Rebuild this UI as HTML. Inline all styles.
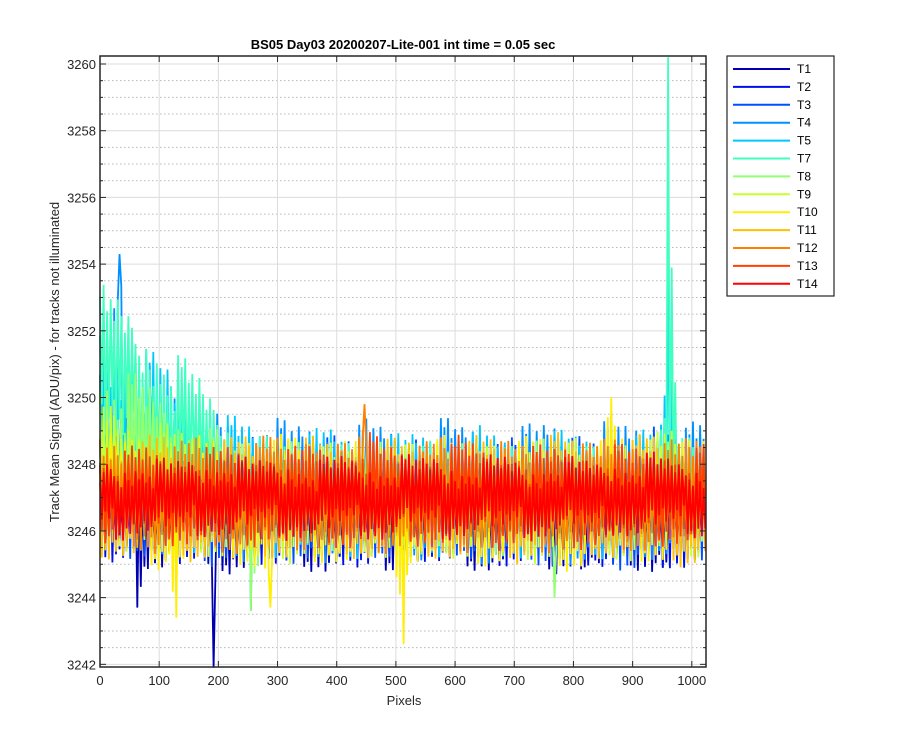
<!DOCTYPE html>
<html><head><meta charset="utf-8"><style>
body{margin:0;background:#fff;}
svg{display:block;font-family:"Liberation Sans",Arial,sans-serif;}
</style></head><body>
<svg id="chart" width="900" height="750" xmlns="http://www.w3.org/2000/svg">
<rect width="900" height="750" fill="#fff"/>
<g id="grid"></g>
<g id="plot"></g>
<g id="axes"></g>
<text x="403" y="49" text-anchor="middle" font-size="13" font-weight="bold" fill="#000">BS05 Day03 20200207-Lite-001 int time = 0.05 sec</text>
<text x="404" y="705" text-anchor="middle" font-size="13" fill="#262626">Pixels</text>
<text transform="translate(59,362) rotate(-90)" text-anchor="middle" font-size="13" fill="#262626">Track Mean Signal (ADU/pix) - for tracks not illuminated</text>
<g id="legend"></g>
</svg>
<script>
const seriesNames=["T1","T2","T3","T4","T5","T7","T8","T9","T10","T11","T12","T13","T14"];
const seriesColors=["#0000b0","#0010e8","#0050ff","#0090ff","#00c8ff","#40ffc0","#90ff70","#c8ff30","#ffee00","#ffc000","#ff8000","#ff4000","#ff0000"];
const xTicks=[0,100,200,300,400,500,600,700,800,900,1000];
const yTicks=[3242,3244,3246,3248,3250,3252,3254,3256,3258,3260];
const baseLevel=3247;
// per-32-pixel envelope (max / min offset from baseLevel) of each track
const hiT1=[1.2,1.0,1.3,0.9,1.4,1.1,1.0,1.2,1.3,0.9,1.1,1.4,1.0,1.2,1.1,1.3,0.9,1.2,1.0,1.4,1.1,1.0,1.3,1.2,0.9,1.1,1.3,1.0,1.2,1.4,1.1,1.0,1.2];
const loT1=[-2.1,-2.3,-3.3,-2.2,-2.4,-2.3,-5.1,-2.4,-2.2,-2.5,-2.1,-2.3,-2.4,-2.2,-2.3,-2.4,-2.1,-2.3,-2.5,-2.2,-2.3,-2.4,-2.3,-2.1,-2.4,-2.2,-3.0,-2.3,-2.2,-2.4,-2.5,-2.3,-2.2];
const hiT2=[1.5,1.6,1.4,1.7,1.3,1.5,1.6,1.4,1.5,1.3,1.6,1.7,1.4,1.5,1.3,1.6,1.4,1.5,1.7,1.3,1.5,1.6,1.4,1.5,1.6,1.4,1.3,1.5,1.6,1.4,1.5,1.3,1.4];
const loT2=[-2.0,-2.2,-2.1,-2.3,-2.1,-2.0,-2.2,-2.4,-2.1,-2.1,-2.3,-2.0,-2.2,-2.1,-2.4,-2.1,-2.2,-2.0,-2.1,-2.3,-2.1,-2.2,-2.1,-2.0,-2.3,-2.2,-2.1,-2.4,-2.1,-2.5,-2.2,-2.3,-2.1];
const hiT3=[2.5,2.3,2.1,2.0,1.9,1.8,2.0,1.7,1.9,2.1,1.8,1.7,2.0,1.9,1.8,2.1,1.7,1.9,1.8,2.0,1.9,1.7,2.1,1.8,1.9,2.0,1.8,1.9,2.1,2.4,2.2,1.9,1.8];
const loT3=[-1.8,-2.0,-1.9,-2.1,-1.8,-2.0,-2.2,-1.9,-2.0,-1.8,-2.1,-2.0,-1.9,-2.2,-1.8,-2.0,-1.9,-2.1,-2.0,-1.8,-2.2,-2.0,-1.9,-2.1,-2.3,-2.0,-1.9,-2.2,-2.4,-2.1,-2.0,-1.9,-2.0];
const hiT4=[5.5,7.3,4.6,5.2,4.3,3.0,2.8,2.5,2.6,2.8,2.3,2.4,2.6,2.2,2.5,2.3,2.4,2.2,2.6,2.3,2.5,2.2,2.4,2.3,2.5,2.2,2.4,2.6,2.3,2.8,2.5,2.3,2.6];
const loT4=[-1.8,-2.0,-1.7,-1.9,-1.8,-2.1,-1.9,-2.0,-3.4,-1.8,-2.0,-1.9,-2.1,-1.8,-2.2,-1.9,-2.0,-2.1,-1.8,-2.0,-2.3,-1.9,-2.1,-2.0,-1.8,-2.2,-2.0,-2.4,-2.1,-2.0,-1.9,-2.1,-2.0];
const hiT5=[5.8,5.2,5.0,4.4,3.9,3.3,3.0,2.6,2.3,2.2,2.4,2.1,2.3,2.0,2.2,2.1,2.0,2.2,2.1,1.9,2.3,2.0,2.1,1.9,2.2,2.0,2.1,2.3,2.0,2.2,7.0,2.0,1.8];
const loT5=[-0.5,-0.8,-1.0,-1.3,-1.6,-1.8,-1.7,-1.9,-1.8,-2.0,-1.7,-1.9,-1.8,-2.0,-1.9,-1.7,-2.0,-1.8,-1.9,-1.7,-2.0,-1.8,-1.9,-2.0,-1.8,-1.7,-1.9,-2.0,-1.8,-1.9,-1.5,-1.7,-1.8];
const hiT7=[6.6,6.2,5.8,5.2,4.6,4.0,3.3,2.6,2.1,1.9,2.0,1.8,1.9,1.7,1.8,1.6,1.8,1.7,1.9,1.6,1.8,1.7,1.6,1.8,1.7,1.9,1.6,1.8,1.7,2.0,13.2,2.0,1.7];
const loT7=[0.8,0.5,0.3,0.0,-0.5,-0.9,-1.2,-1.4,-1.5,-1.4,-1.6,-1.5,-1.4,-1.6,-1.5,-1.4,-1.6,-1.5,-1.4,-1.5,-1.6,-1.4,-1.5,-1.6,-1.4,-1.5,-1.6,-1.4,-1.5,-1.3,0.0,-1.2,-1.4];
const hiT8=[4.6,4.2,3.8,3.4,3.0,2.6,2.2,1.9,1.8,1.7,1.9,1.6,1.8,1.7,1.6,1.8,1.7,1.9,1.6,1.7,1.8,1.6,1.7,1.9,1.8,1.6,1.7,1.8,1.6,1.9,2.5,1.8,1.6];
const loT8=[-1.0,-1.2,-1.4,-1.5,-1.6,-1.8,-1.7,-1.9,-3.4,-1.8,-1.7,-1.9,-1.8,-1.7,-1.9,-1.8,-1.6,-1.8,-1.9,-1.7,-1.8,-1.9,-1.7,-1.8,-3.0,-1.8,-1.7,-1.9,-1.8,-1.7,-1.6,-1.8,-1.7];
const hiT9=[3.4,3.1,2.8,2.5,2.2,2.0,1.8,1.9,1.7,1.8,1.6,1.8,1.7,1.9,1.6,1.7,1.8,1.6,1.7,1.9,1.8,1.6,1.7,1.8,1.6,1.9,1.7,1.8,1.6,1.9,2.3,1.8,1.7];
const loT9=[-1.6,-1.7,-1.8,-1.9,-2.0,-1.8,-1.9,-2.0,-1.8,-1.9,-2.1,-1.8,-2.0,-1.9,-1.8,-2.0,-1.9,-2.1,-1.8,-2.0,-1.9,-1.8,-2.0,-2.1,-1.9,-1.8,-2.0,-1.9,-2.1,-1.8,-1.9,-2.0,-1.8];
const hiT10=[2.2,2.0,1.9,2.1,1.8,2.0,1.9,1.8,2.0,1.9,2.1,1.8,1.9,2.0,1.8,2.1,1.9,1.8,2.0,1.9,1.8,2.1,1.9,2.0,1.8,2.2,1.9,3.0,2.0,1.9,2.1,1.8,1.9];
const loT10=[-2.0,-2.2,-2.1,-2.3,-3.6,-2.1,-2.2,-2.0,-2.3,-3.3,-2.1,-2.2,-2.0,-2.3,-2.1,-2.2,-4.4,-2.1,-2.3,-2.0,-2.2,-2.1,-2.3,-2.0,-2.2,-2.4,-2.1,-2.2,-2.3,-2.0,-2.1,-2.2,-2.0];
const hiT11=[1.9,2.0,1.8,2.1,1.9,1.8,2.0,1.9,2.1,1.8,1.9,2.0,1.8,2.1,1.9,2.0,1.8,1.9,2.1,1.8,2.0,1.9,1.8,2.0,2.1,1.9,1.8,2.0,1.9,2.1,1.8,2.0,2.6];
const loT11=[-2.0,-1.9,-2.1,-2.0,-1.8,-2.1,-1.9,-2.0,-2.1,-1.9,-2.0,-1.8,-2.1,-1.9,-2.0,-2.1,-1.8,-2.0,-1.9,-2.1,-2.0,-1.8,-2.1,-1.9,-2.0,-2.2,-1.9,-2.0,-2.1,-1.9,-2.0,-2.3,-2.0];
const hiT12=[1.8,1.7,1.9,1.8,1.7,2.0,1.8,1.9,1.7,2.1,1.8,2.5,1.9,1.7,2.8,1.8,1.9,1.7,2.0,1.8,2.2,1.9,1.7,1.8,2.0,1.9,1.7,2.1,2.3,1.9,1.8,2.0,2.2];
const loT12=[-1.7,-1.8,-1.6,-1.9,-1.7,-1.8,-1.6,-1.9,-1.8,-1.7,-1.9,-1.6,-1.8,-1.7,-1.9,-1.8,-1.6,-1.7,-1.9,-1.8,-1.7,-1.6,-1.8,-1.9,-1.7,-1.8,-1.6,-1.9,-1.7,-1.8,-1.9,-2.1,-1.8];
const hiT13=[1.6,1.5,1.7,1.6,1.5,1.8,1.6,1.7,1.5,1.9,1.6,1.7,1.8,1.6,2.3,1.7,1.6,1.8,1.5,2.0,1.7,1.6,1.8,1.7,1.6,1.9,1.7,1.8,1.6,1.7,1.8,1.6,1.7];
const loT13=[-1.5,-1.6,-1.4,-1.7,-1.5,-1.6,-1.7,-1.5,-1.6,-1.4,-1.7,-1.6,-1.5,-1.7,-1.6,-1.5,-1.4,-1.6,-1.7,-1.5,-1.6,-1.7,-1.5,-1.6,-1.4,-1.7,-1.6,-1.5,-1.6,-1.7,-1.5,-1.6,-1.5];
const hiT14=[1.3,1.2,1.4,1.3,1.2,1.4,1.3,1.5,1.2,1.3,1.4,1.2,1.3,1.4,1.3,1.2,1.4,1.3,1.5,1.2,1.3,1.4,1.3,1.2,1.4,1.3,1.2,1.4,1.3,1.5,1.3,1.2,1.3];
const loT14=[-1.3,-1.4,-1.2,-1.3,-1.5,-1.3,-1.2,-1.4,-1.3,-1.2,-1.4,-1.3,-1.5,-1.2,-1.3,-1.4,-1.2,-1.3,-1.4,-1.3,-1.2,-1.5,-1.3,-1.4,-1.2,-1.3,-1.4,-1.2,-1.3,-1.4,-1.3,-1.2,-1.4];
const seriesHi=[hiT1,hiT2,hiT3,hiT4,hiT5,hiT7,hiT8,hiT9,hiT10,hiT11,hiT12,hiT13,hiT14];
const seriesLo=[loT1,loT2,loT3,loT4,loT5,loT7,loT8,loT9,loT10,loT11,loT12,loT13,loT14];
// rendering texture (fraction of the envelope reached by each successive swing)
const texture=[0.9,0.45,0.8,0.3,0.95,0.6,0.7,0.4,0.85,0.25,0.65,0.55,0.9,0.35,0.75,0.5,0.6,0.3,0.8,0.45,0.7,0.2,0.55];

const NS="http://www.w3.org/2000/svg";
const L=100,R=706,T=56,B=667,XMAX=1024,YMIN=3241.92,YMAX=3260.24;
const xs=v=>L+(v/XMAX)*(R-L);
const ys=v=>B-(v-YMIN)/(YMAX-YMIN)*(B-T);
function mk(tag,attrs,parent){const e=document.createElementNS(NS,tag);for(const k in attrs)e.setAttribute(k,attrs[k]);parent.appendChild(e);return e;}
function smoothEnv(arr,sign){return arr.map((v,i)=>{const a=arr[Math.max(i-1,0)],b=arr[Math.min(i+1,arr.length-1)];const m=(a+b)/2;return (sign*(v-m)>0.8)?m:v;});}
function interp(arr,x){const n=arr.length;const p=x/XMAX*(n-1);const i=Math.min(Math.floor(p),n-2);const f=p-i;return arr[i]*(1-f)+arr[i+1]*f;}
function envAt(raw,sm,x){const binW=XMAX/(raw.length-1);const i=Math.round(x/binW);const d=Math.abs(x-i*binW);let v=interp(sm,x);
 if(raw[i]!==sm[i]&&d<14){v=v+(raw[i]-sm[i])*(1-d/14);}return v;}
const grid=document.getElementById('grid'),plot=document.getElementById('plot'),axes=document.getElementById('axes'),legend=document.getElementById('legend');
for(let v=3242;v<=3260.01;v+=0.5){if(Math.abs(v-Math.round(v/2)*2)<0.01)continue;
 const l=mk('line',{x1:L,x2:R,y1:ys(v),y2:ys(v),stroke:'#b8b8b8','stroke-dasharray':'1.5,2.5','stroke-width':1},grid);
 
 }
yTicks.forEach(v=>{const l=mk('line',{x1:L,x2:R,y1:ys(v),y2:ys(v),stroke:'#dcdcdc','stroke-width':1},grid);
 
 });
xTicks.forEach(v=>{const l=mk('line',{x1:xs(v),x2:xs(v),y1:T,y2:B,stroke:'#dcdcdc','stroke-width':1},grid);
 
 });
seriesHi.forEach((hi,si)=>{const lo=seriesLo[si];const pts=[];
 const hiS=smoothEnv(hi,1),loS=smoothEnv(lo,-1);
 const binW=XMAX/(hi.length-1);
 let k=0;
 for(let x=0;x<=XMAX;x+=3,k++){
  const h=envAt(hi,hiS,x),l=envAt(lo,loS,x),mid=(interp(hiS,x)+interp(loS,x))/2;
  const t=texture[(k+si*5)%texture.length];
  const i=Math.round(x/binW);const d=Math.abs(x-i*binW);
  let v=(k%2===0)?mid+(h-mid)*t:mid+(l-mid)*t;
  if(d<1.6&&hi[i]!==hiS[i])v=hi[i];
  if(d<1.6&&lo[i]!==loS[i])v=lo[i];
  pts.push(xs(x).toFixed(1)+','+ys(baseLevel+v).toFixed(1));}
 const p=mk('polyline',{points:pts.join(' '),fill:'none',stroke:seriesColors[si],'stroke-width':1.8,'stroke-linejoin':'miter','stroke-miterlimit':2},plot);
 
 });
const box=mk('rect',{x:L,y:T,width:R-L,height:B-T,fill:'none',stroke:'#262626','stroke-width':1.5},axes);


xTicks.forEach(v=>{mk('line',{x1:xs(v),x2:xs(v),y1:B,y2:B-6,stroke:'#262626'},axes);mk('line',{x1:xs(v),x2:xs(v),y1:T,y2:T+6,stroke:'#262626'},axes);
 const t=mk('text',{x:xs(v),y:B+18,'text-anchor':'middle','font-size':13,fill:'#262626'},axes);t.textContent=v;
 
 });
yTicks.forEach(v=>{mk('line',{x1:L,x2:L+6,y1:ys(v),y2:ys(v),stroke:'#262626'},axes);mk('line',{x1:R,x2:R-6,y1:ys(v),y2:ys(v),stroke:'#262626'},axes);
 const t=mk('text',{x:L-4,y:ys(v)+5,'text-anchor':'end','font-size':13,fill:'#262626'},axes);t.textContent=v;
 
 });
for(let v=3242.5;v<3260.1;v+=0.5){if(Math.abs(v-Math.round(v/2)*2)<0.01)continue;
 mk('line',{x1:L,x2:L+3,y1:ys(v),y2:ys(v),stroke:'#262626'},axes);mk('line',{x1:R,x2:R-3,y1:ys(v),y2:ys(v),stroke:'#262626'},axes);}
const lb=mk('rect',{x:727,y:56,width:107,height:240,fill:'#fff',stroke:'#262626','stroke-width':1.2},legend);


seriesNames.forEach((nm,i)=>{const y=69+i*17.9;
 const g=mk('g',{},legend);
 
 
 mk('line',{x1:733,x2:790,y1:y,y2:y,stroke:seriesColors[i],'stroke-width':2},g);
 const t=mk('text',{x:797,y:y+4,'font-size':12,fill:'#000'},g);t.textContent=nm;});
</script>
</body></html>
